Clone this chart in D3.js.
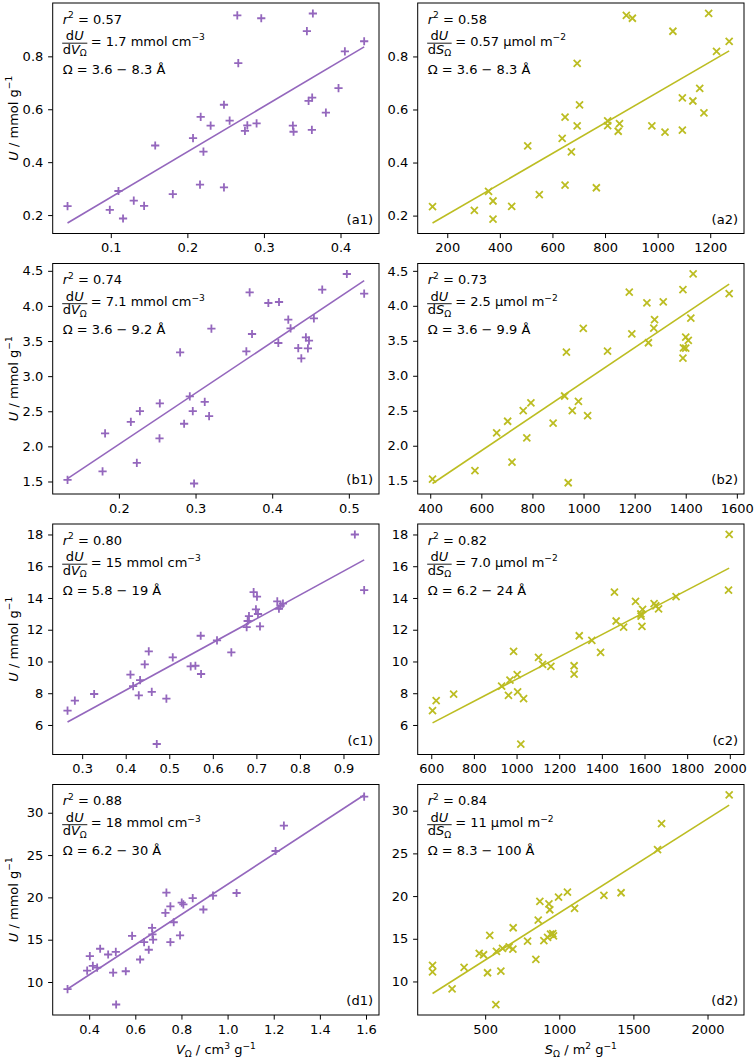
<!DOCTYPE html>
<html><head><meta charset="utf-8">
<script src="https://cdn.jsdelivr.net/npm/d3@7/dist/d3.min.js"></script>
<style>
body{margin:0;background:#fff}
svg{display:block}
text{font-family:"DejaVu Sans",sans-serif;fill:#000}
</style>
</head><body>
<svg id="chart" width="754" height="1060"></svg>
<script>
// ---------------- DATA ----------------
// Row a
const uA = [0.234,0.220,0.291,0.187,0.255,0.235,0.463,0.279,0.491,0.571,0.315,0.440,0.538,0.617,0.305,0.557,0.955,0.774,0.518,0.539,0.547,0.944,0.538,0.515,0.895,0.632,0.522,0.644,0.962,0.587,0.680,0.819,0.857];
const vA = [0.0435,0.0987,0.110,0.116,0.130,0.1435,0.158,0.181,0.2074,0.2174,0.2165,0.221,0.2304,0.2478,0.2478,0.2552,0.2652,0.2665,0.2752,0.2783,0.2904,0.2965,0.3378,0.3387,0.3561,0.3583,0.3626,0.363,0.3639,0.3809,0.3974,0.4057,0.4309];
const sA = [144,303,357,374,374,445,506,550,637,648,648,672,694,703,767,810,881,694,850,810,855,904,978,1028,1058,1134,1094,1094,1194,1176,1160,1224,1272];
// Row b
const uB = [1.524,1.643,2.184,2.35,2.502,1.766,2.612,2.113,3.338,2.322,2.711,2.502,1.471,2.635,2.431,3.676,3.353,4.194,3.60,4.042,4.056,3.472,3.804,3.68,3.40,3.253,3.552,3.395,3.505,3.823,4.232,4.455,4.175];
const vB = [0.133,0.1787,0.182,0.2156,0.2274,0.2234,0.2534,0.253,0.2799,0.2851,0.2925,0.2964,0.2981,0.312,0.3177,0.3207,0.3663,0.3706,0.3737,0.395,0.4089,0.408,0.421,0.424,0.434,0.438,0.444,0.4466,0.448,0.4544,0.4653,0.4974,0.52];
const sB = [409,575,660,703,764,720,794,778,933,881,926,956,940,980,1016,999,1094,1179,1189,1248,1312,1254,1278,1275,1391,1389,1400,1400,1410,1420,1389,1429,1570];
// Row c
const uC = [6.90,7.53,7.95,9.17,8.45,7.87,8.83,9.82,10.64,8.08,4.80,7.66,10.26,9.69,9.73,11.62,9.21,11.33,10.57,12.17,12.55,12.86,14.37,13.28,14.08,12.99,12.21,13.78,13.32,13.51,13.64,18.0,14.5];
const vC = [0.2664,0.2832,0.3275,0.4109,0.417,0.430,0.433,0.4437,0.4529,0.4598,0.4713,0.4934,0.508,0.5492,0.56,0.5722,0.573,0.6096,0.6425,0.6777,0.68,0.683,0.6937,0.699,0.7014,0.7037,0.7083,0.748,0.7518,0.7557,0.761,0.9261,0.9475];
const sC = [606,623,705,1003,930,962,969,1122,986,1005,1020,1033,1103,1161,1270,1294,1270,1353,1394,1502,1467,1584,1459,1591,1748,1583,1588,1558,1666,1653,1645,1997,1994];
// Row d
const vD  = [0.3062,0.3913,0.4029,0.4159,0.4346,0.4476,0.4823,0.5039,0.5154,0.5169,0.5587,0.5861,0.6208,0.6381,0.6583,0.6727,0.6742,0.6771,0.7305,0.7348,0.7521,0.7521,0.7665,0.7939,0.8012,0.8083,0.8488,0.895,0.9368,1.039,1.208,1.244,1.592];
const uD1 = [9.17,11.35,13.06,11.90,11.71,13.93,13.25,11.11,13.57,7.34,11.27,15.44,12.66,14.72,13.81,16.39,15.63,15.0,18.17,20.56,18.93,14.72,17.06,15.52,19.37,19.17,19.92,18.57,20.20,20.52,25.48,28.49,31.9];
const sD  = [145,145,277,358,460,489,516,531,572,576,606,617,662,687,689,786,842,858,869,896,921,930,936,941,956,961,995,1055,1103,1301,1417,1663,1690,2146];
const uD2 = [11.88,11.13,9.14,11.64,13.28,13.13,11.02,15.39,7.30,13.52,11.21,13.87,14.06,13.79,16.29,14.73,12.58,17.19,19.38,14.77,15.16,19.10,18.40,15.55,15.59,15.35,19.88,20.47,18.55,20.08,20.39,25.43,28.48,31.84];

// Fit line end points [x0, y0, x1, y1]
const fitA1 = [0.0435, 0.170, 0.4309, 0.836];
const fitA2 = [144, 0.172, 1272, 0.821];
const fitB1 = [0.133, 1.54, 0.52, 4.36];
const fitB2 = [409, 1.46, 1570, 4.31];
const fitC1 = [0.2664, 6.19, 0.9475, 16.40];
const fitC2 = [606, 6.13, 1997, 15.88];
const fitD1 = [0.3062, 9.17, 1.592, 32.1];
const fitD2 = [145, 8.59, 2146, 30.66];

// Tick values
const ticksVA = [0.1,0.2,0.3,0.4];
const ticksSA = [200,400,600,800,1000,1200];
const ticksUA = [0.2,0.4,0.6,0.8];
const ticksVB = [0.2,0.3,0.4,0.5];
const ticksSB = [400,600,800,1000,1200,1400,1600];
const ticksUB = [1.5,2.0,2.5,3.0,3.5,4.0,4.5];
const ticksVC = [0.3,0.4,0.5,0.6,0.7,0.8,0.9];
const ticksSC = [600,800,1000,1200,1400,1600,1800,2000];
const ticksUC = [6,8,10,12,14,16,18];
const ticksVD = [0.4,0.6,0.8,1.0,1.2,1.4,1.6];
const ticksSD = [500,1000,1500,2000];
const ticksUD = [10,15,20,25,30];

// Annotation texts
const panelNames = ["(a1)","(a2)","(b1)","(b2)","(c1)","(c2)","(d1)","(d2)"];
const r2Vals = ["0.57","0.58","0.74","0.73","0.80","0.82","0.88","0.84"];
const slopeVals = ["1.7","0.57","7.1","2.5","15","7.0","18","11"];
const omegaLo = ["3.6","3.6","3.6","3.6","5.8","6.2","6.2","8.3"];
const omegaHi = ["8.3","8.3","9.2","9.9","19","24","30","100"];

// ---------------- LAYOUT / STYLE ----------------
const FS = 13;
const colLeft = [52.7, 417.7], boxW = 326.3;
const rowTop = [3, 263.5, 524, 784.5], boxH = 230.5;
const PURPLE = "#9467bd", OLIVE = "#bcbd22";

const panels = [
  {x:vA, y:uA, fit:fitA1, xt:ticksVA, yt:ticksUA, xf:".1f", yf:".1f", kind:"V"},
  {x:sA, y:uA, fit:fitA2, xt:ticksSA, yt:ticksUA, xf:"d",   yf:".1f", kind:"S"},
  {x:vB, y:uB, fit:fitB1, xt:ticksVB, yt:ticksUB, xf:".1f", yf:".1f", kind:"V"},
  {x:sB, y:uB, fit:fitB2, xt:ticksSB, yt:ticksUB, xf:"d",   yf:".1f", kind:"S"},
  {x:vC, y:uC, fit:fitC1, xt:ticksVC, yt:ticksUC, xf:".1f", yf:"d",   kind:"V"},
  {x:sC, y:uC, fit:fitC2, xt:ticksSC, yt:ticksUC, xf:"d",   yf:"d",   kind:"S"},
  {x:vD, y:uD1, fit:fitD1, xt:ticksVD, yt:ticksUD, xf:".1f", yf:"d",  kind:"V"},
  {x:sD, y:uD2, fit:fitD2, xt:ticksSD, yt:ticksUD, xf:"d",   yf:"d",  kind:"S"}
];

const svg = d3.select("#chart");

function padded(vals){
  const [a,b] = d3.extent(vals);
  const p = (b-a)*0.05;
  return [a-p, b+p];
}

panels.forEach((p, i) => {
  const col = i % 2, row = Math.floor(i/2);
  const L = colLeft[col], T = rowTop[row];
  const xs = d3.scaleLinear().domain(padded(p.x.concat([p.fit[0],p.fit[2]]))).range([L, L+boxW]);
  const ys = d3.scaleLinear().domain(padded(p.y.concat([p.fit[1],p.fit[3]]))).range([T+boxH, T]);
  const color = col === 0 ? PURPLE : OLIVE;
  const g = svg.append("g");

  // axes
  const xa = g.append("g").attr("transform",`translate(0,${T+boxH})`)
    .call(d3.axisBottom(xs).tickValues(p.xt).tickFormat(d3.format(p.xf)).tickSize(4.6).tickPadding(5.0));
  const ya = g.append("g").attr("transform",`translate(${L},0)`)
    .call(d3.axisLeft(ys).tickValues(p.yt).tickFormat(d3.format(p.yf)).tickSize(4.6).tickPadding(4.8));
  [xa, ya].forEach(a => {
    a.select(".domain").remove();
    a.selectAll(".tick line").attr("stroke","#000").attr("stroke-width",1);
    a.selectAll(".tick text").attr("font-size",FS).attr("font-family","DejaVu Sans").attr("fill","#000");
  });

  // fit line
  g.append("line")
    .attr("x1", xs(p.fit[0])).attr("y1", ys(p.fit[1]))
    .attr("x2", xs(p.fit[2])).attr("y2", ys(p.fit[3]))
    .attr("stroke", color).attr("stroke-width", 1.6);

  // markers
  const pts = p.x.map((v,k) => [v, p.y[k]]);
  const r = col === 0 ? 4.1 : 3.5;
  const mpath = col === 0
    ? `M${-r},0H${r}M0,${-r}V${r}`
    : `M${-r},${-r}L${r},${r}M${-r},${r}L${r},${-r}`;
  g.selectAll("path.m").data(pts).enter().append("path")
    .attr("class","m")
    .attr("transform", d => `translate(${xs(d[0])},${ys(d[1])})`)
    .attr("d", mpath)
    .attr("fill","none").attr("stroke", color).attr("stroke-width", 1.8);

  // frame
  g.append("rect").attr("x",L).attr("y",T).attr("width",boxW).attr("height",boxH)
    .attr("fill","none").attr("stroke","#000").attr("stroke-width",1);

  // annotations
  const x0 = L + 10;
  const t1 = g.append("text").attr("x",x0).attr("y",T+20.5).attr("font-size",FS);
  t1.append("tspan").attr("font-style","italic").text("r");
  t1.append("tspan").attr("font-size",FS*0.7).attr("dy",-5.3).text("2");
  t1.append("tspan").attr("dy",5.3).text(" = " + r2Vals[i]);

  const den = g.append("text").attr("x",x0).attr("y",T+50.5).attr("font-size",FS);
  den.append("tspan").text("d");
  den.append("tspan").attr("font-style","italic").text(p.kind);
  den.append("tspan").attr("font-size",FS*0.7).attr("dy",2.8).text("Ω");
  const dw = den.node().getComputedTextLength();
  const num = g.append("text").attr("x",x0+dw/2).attr("y",T+37.2).attr("text-anchor","middle").attr("font-size",FS);
  num.append("tspan").text("d");
  num.append("tspan").attr("font-style","italic").text("U");
  g.append("line").attr("x1",x0-0.5).attr("x2",x0+dw+0.5).attr("y1",T+40.2).attr("y2",T+40.2)
    .attr("stroke","#000").attr("stroke-width",0.9);
  const rest = g.append("text").attr("x",x0+dw+4).attr("y",T+42.5).attr("font-size",FS);
  const unit = col === 0 ? " mmol cm" : " μmol m";
  const ex = col === 0 ? "−3" : "−2";
  rest.append("tspan").text("= " + slopeVals[i] + unit);
  rest.append("tspan").attr("font-size",FS*0.7).attr("dy",-5.3).text(ex);

  g.append("text").attr("x",x0).attr("y",T+70.5).attr("font-size",FS)
    .text("Ω = " + omegaLo[i] + " − " + omegaHi[i] + " Å");

  // panel label
  g.append("text").attr("x",L+boxW-6).attr("y",T+boxH-10).attr("text-anchor","end")
    .attr("font-size",FS).text(panelNames[i]);

  // y label (first column)
  if (col === 0) {
    const yl = g.append("text")
      .attr("transform",`translate(17.5,${T+boxH/2}) rotate(-90)`)
      .attr("text-anchor","middle").attr("font-size",FS);
    yl.append("tspan").attr("font-style","italic").text("U");
    yl.append("tspan").text(" / mmol g");
    yl.append("tspan").attr("font-size",FS*0.7).attr("dy",-5.3).text("−1");
  }
  // x label (bottom row)
  if (row === 3) {
    const xl = g.append("text").attr("x",L+boxW/2).attr("y",1054)
      .attr("text-anchor","middle").attr("font-size",FS);
    xl.append("tspan").attr("font-style","italic").text(p.kind);
    xl.append("tspan").attr("font-size",FS*0.7).attr("dy",2.8).text("Ω");
    xl.append("tspan").attr("dy",-2.8).text(col === 0 ? " / cm" : " / m");
    xl.append("tspan").attr("font-size",FS*0.7).attr("dy",-5.3).text(col === 0 ? "3" : "2");
    xl.append("tspan").attr("dy",5.3).text(" g");
    xl.append("tspan").attr("font-size",FS*0.7).attr("dy",-5.3).text("−1");
  }
});
</script>
</body></html>
